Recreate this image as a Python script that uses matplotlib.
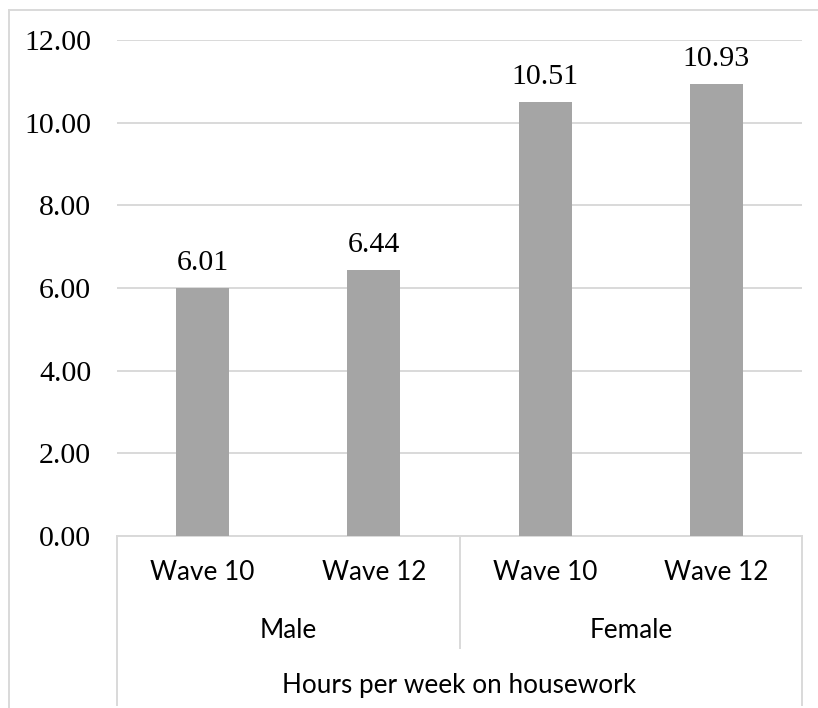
import numpy as np
import matplotlib
matplotlib.use("Agg")
import matplotlib.pyplot as plt
from matplotlib.lines import Line2D

# data
waves = ["Wave 10", "Wave 12", "Wave 10", "Wave 12"]
groups = ["Male", "Female"]
hours = [6.01, 6.44, 10.51, 10.93]
outer_label = "Hours per week on housework"
yticks = [0, 2, 4, 6, 8, 10, 12]

W, H = 818, 708
fig = plt.figure(figsize=(W / 100, H / 100), dpi=100)
# plot area in pixels: x 117..802, y 40..536
ax = fig.add_axes([117 / W, (H - 536) / H, 685 / W, 496 / H])

grid_col = "#D9D9D9"
bar_col = "#A5A5A5"
serif = "Liberation Serif"
sans = "Lato"
fs_serif = 21.5
fs_sans = 18.8

x = np.arange(len(hours))
ax.bar(x, hours, width=0.31, color=bar_col, zorder=3)
ax.set_xlim(-0.5, len(hours) - 0.5)
ax.set_ylim(0, 12)
ax.set_yticks(yticks)
ax.set_yticklabels(["%.2f" % v for v in yticks], fontfamily=serif, fontsize=fs_serif)
ax.tick_params(axis="y", length=0, pad=18.5)
ax.set_xticks([])
ax.yaxis.grid(True, color=grid_col, lw=1.4, zorder=0)
for s in ax.spines.values():
    s.set_visible(False)

# value labels
for xi, v in zip(x, hours):
    ax.annotate("%.2f" % v, (xi, v), xytext=(0, 13), textcoords="offset points",
                ha="center", va="baseline", fontfamily=serif, fontsize=fs_serif)

# multi-level category axis
tr = ax.get_xaxis_transform()
y_low = (536 - 705) / 496
y_mid = (536 - 648) / 496
ax.plot([-0.5, 3.5], [0, 0], transform=tr, color=grid_col, lw=1.4, clip_on=False)
ax.plot([-0.5, -0.5], [0, y_low], transform=tr, color=grid_col, lw=1.4, clip_on=False)
ax.plot([3.5, 3.5], [0, y_low], transform=tr, color=grid_col, lw=1.4, clip_on=False)
ax.plot([1.5, 1.5], [0, y_mid], transform=tr, color=grid_col, lw=1.4, clip_on=False)

for xi, lab in zip(x, waves):
    ax.text(xi, (536 - 573) / 496, lab, transform=tr, ha="center", va="center",
            fontfamily=sans, fontsize=fs_sans)
for i, g in enumerate(groups):
    ax.text(2 * i + 0.5, (536 - 630) / 496, g, transform=tr, ha="center", va="center",
            fontfamily=sans, fontsize=fs_sans)
ax.text(1.5, (536 - 685) / 496, outer_label, transform=tr, ha="center", va="center",
        fontfamily=sans, fontsize=fs_sans)

# chart border (partly cut off by the image)
fig.add_artist(Line2D([9 / W, 9 / W], [0, 1 - 10 / H], color=grid_col, lw=1.4))
fig.add_artist(Line2D([9 / W, 1], [1 - 10 / H, 1 - 10 / H], color=grid_col, lw=1.4))

fig.savefig("out.png", dpi=100)
